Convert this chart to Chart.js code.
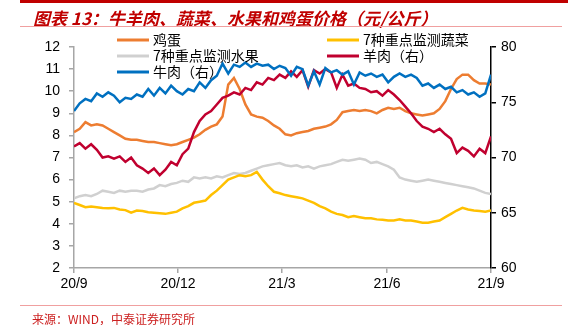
<!DOCTYPE html>
<html>
<head>
<meta charset="utf-8">
<script src="https://cdn.jsdelivr.net/npm/chart.js@4.4.0/dist/chart.umd.min.js"></script>
<style>
  html, body { margin: 0; padding: 0; background: #fff; }
  #wrap { position: relative; width: 568px; height: 325px; overflow: hidden; }
  #topbar { position: absolute; left: 20px; top: 0; width: 548px; height: 3px; background: #c00000; }
  #title { position: absolute; left: 33px; top: 5px; line-height: 22px; white-space: nowrap;
           font: italic bold 17px "Noto Sans CJK SC", sans-serif; color: #c00000; }
  #line1 { position: absolute; left: 20px; top: 26px; width: 542px; height: 1px; background: #f0a0a0; }
  #line2 { position: absolute; left: 20px; top: 305px; width: 542px; height: 1px; background: #f0a0a0; }
  #source { position: absolute; left: 32px; top: 310px; line-height: 16px; white-space: nowrap;
            font: 12px "Noto Sans CJK SC", sans-serif; color: #cc2020; }
  canvas { position: absolute; left: 0; top: 0; }
</style>
</head>
<body>
<div id="wrap">
  <canvas id="chart" width="568" height="325"></canvas>
  <div id="topbar"></div>
  <div id="title">图表 13：牛羊肉、蔬菜、水果和鸡蛋价格（元/公斤）</div>
  <div id="line1"></div>
  <div id="line2"></div>
  <div id="source">来源：WIND，中泰证券研究所</div>
</div>
<script>
// days since 2020-09-01
var days = [
  0, 5, 10, 15, 20, 25, 30, 35, 40, 45,
  50, 55, 60, 65, 70, 75, 80, 85, 90, 95,
  100, 105, 110, 115, 120, 125, 130, 135, 140, 145,
  150, 155, 160, 165, 170, 175, 180, 185, 190, 195,
  200, 205, 210, 215, 220, 225, 230, 235, 240, 245,
  250, 255, 260, 265, 270, 275, 280, 285, 290, 295,
  300, 305, 310, 315, 320, 325, 330, 335, 340, 345,
  350, 355, 360, 365
];

var eggs = [
  8.15, 8.3, 8.6, 8.45, 8.5, 8.45, 8.3, 8.15, 8.0, 7.85,
  7.8, 7.8, 7.75, 7.7, 7.7, 7.65, 7.6, 7.55, 7.6, 7.7,
  7.8, 7.9, 8.05, 8.25, 8.4, 8.5, 8.85, 10.3, 10.6, 10.1,
  9.4, 8.95, 8.85, 8.8, 8.65, 8.45, 8.3, 8.05, 8.0, 8.1,
  8.15, 8.2, 8.3, 8.35, 8.4, 8.5, 8.7, 9.05, 9.1, 9.15,
  9.1, 9.15, 9.1, 9.0, 9.15, 9.25, 9.2, 9.25, 9.1, 9.0,
  8.95, 8.9, 8.95, 9.0, 9.2, 9.55, 10.1, 10.55, 10.75, 10.75,
  10.5, 10.35, 10.35, 10.3
];

var vegetables = [
  4.95, 4.85, 4.75, 4.78, 4.75, 4.72, 4.7, 4.72, 4.65, 4.62,
  4.5, 4.6, 4.58, 4.52, 4.5, 4.48, 4.45, 4.5, 4.55, 4.7,
  4.8, 4.95, 5.0, 5.05, 5.3, 5.5, 5.75, 6.0, 6.1, 6.2,
  6.15, 6.2, 6.35, 6.0, 5.7, 5.45, 5.38, 5.3, 5.25, 5.2,
  5.15, 5.05, 4.95, 4.8, 4.7, 4.55, 4.45, 4.4, 4.3, 4.35,
  4.3, 4.25, 4.25, 4.2, 4.18, 4.15, 4.15, 4.2, 4.15, 4.15,
  4.1, 4.05, 4.05, 4.1, 4.15, 4.3, 4.45, 4.6, 4.72, 4.65,
  4.6, 4.58, 4.55, 4.6
];

var fruit = [
  5.15, 5.25, 5.3, 5.25, 5.35, 5.5, 5.45, 5.4, 5.5, 5.45,
  5.5, 5.5, 5.45, 5.55, 5.6, 5.75, 5.7, 5.8, 5.85, 5.95,
  5.9, 6.1, 6.05, 6.1, 6.05, 6.15, 6.1, 6.2, 6.3, 6.25,
  6.3, 6.4, 6.5, 6.6, 6.65, 6.7, 6.75, 6.65, 6.6, 6.65,
  6.55, 6.6, 6.5, 6.6, 6.65, 6.7, 6.8, 6.9, 6.85, 6.9,
  6.95, 6.9, 6.75, 6.8, 6.7, 6.6, 6.45, 6.1, 6.0, 5.95,
  5.9, 5.95, 6.0, 5.95, 5.9, 5.85, 5.8, 5.75, 5.7, 5.65,
  5.6, 5.5, 5.4, 5.35
];

var mutton = [
  71.0, 71.3, 70.8, 71.2, 70.7, 70.0, 70.1, 69.9, 70.1, 69.6,
  70.0, 69.3, 69.0, 68.6, 69.0, 68.4, 68.9, 69.6, 69.3, 70.3,
  70.8, 72.3, 73.3, 73.9, 74.2, 74.8, 75.4, 75.6, 75.9, 75.7,
  76.3, 76.1, 76.8, 76.6, 77.2, 77.0, 77.5, 77.2, 77.8, 77.3,
  77.9, 76.4, 77.9, 77.6, 78.0, 77.7, 76.3, 77.5, 76.5, 76.7,
  76.3, 76.2, 75.9, 76.0, 75.6, 76.1, 75.7, 75.2, 74.6, 74.0,
  73.3, 72.8, 72.6, 72.3, 72.6, 72.1, 71.7, 70.4, 70.9, 70.6,
  70.1, 70.8, 70.4, 71.9
];

var beef = [
  74.2, 74.9, 75.3, 75.1, 75.8, 75.5, 75.9, 75.6, 75.0, 75.4,
  75.3, 75.7, 75.5, 76.2, 75.6, 76.3, 75.8, 76.5, 76.0, 75.7,
  76.2, 76.0, 76.8, 76.3, 77.0, 77.4, 78.5, 77.6, 78.4, 78.2,
  78.6, 78.2, 78.5, 78.3, 78.4, 78.0, 78.3, 78.1, 77.4, 78.2,
  78.0, 76.5, 77.8, 76.6, 78.1, 77.7, 77.9, 77.5, 77.8, 76.6,
  77.7, 77.4, 77.6, 77.3, 77.5, 76.8, 77.3, 77.6, 77.3, 77.5,
  77.2, 76.5, 76.7, 76.3, 76.6, 76.2, 76.4, 75.9, 76.1, 75.7,
  75.9, 75.5, 75.8, 77.5
];

var tickDays = [0, 91, 182, 274, 365];
var tickLabels = ['20/9', '20/12', '21/3', '21/6', '21/9'];

function pts(values) {
  return values.map(function (v, i) { return { x: days[i], y: v }; });
}

// legend order: row by row, two columns
var legendOrder = [
  { label: '鸡蛋', color: '#ed7d31', col: 0, row: 0 },
  { label: '7种重点监测蔬菜', color: '#ffc000', col: 1, row: 0 },
  { label: '7种重点监测水果', color: '#d0d0d0', col: 0, row: 1 },
  { label: '羊肉（右）', color: '#c0002f', col: 1, row: 1 },
  { label: '牛肉（右）', color: '#0070c0', col: 0, row: 2 }
];

var legendPlugin = {
  id: 'twoColLegend',
  afterDatasetsDraw: function (chart) {
    var ctx = chart.ctx;
    var colX = [117, 327];
    var rowY = [40, 56, 72];
    ctx.save();
    ctx.font = '14px "Noto Sans CJK SC", sans-serif';
    ctx.textBaseline = 'middle';
    ctx.fillStyle = '#000';
    legendOrder.forEach(function (it) {
      var x = colX[it.col], y = rowY[it.row];
      ctx.strokeStyle = it.color;
      ctx.lineWidth = 3;
      ctx.beginPath();
      ctx.moveTo(x, y);
      ctx.lineTo(x + 32, y);
      ctx.stroke();
      ctx.fillText(it.label, x + 36, y);
    });
    ctx.restore();
  }
};

function line(label, values, color, axis, order) {
  return {
    label: label,
    data: pts(values),
    borderColor: color,
    backgroundColor: color,
    borderWidth: 2.5,
    pointRadius: 0,
    tension: 0,
    yAxisID: axis,
    order: order
  };
}

var tickFont = { family: '"Liberation Sans", Arial, sans-serif', size: 14 };

new Chart(document.getElementById('chart'), {
  type: 'line',
  data: {
    datasets: [
      line('鸡蛋', eggs, '#ed7d31', 'y', 3),
      line('7种重点监测蔬菜', vegetables, '#ffc000', 'y', 4),
      line('7种重点监测水果', fruit, '#d0d0d0', 'y', 5),
      line('羊肉（右）', mutton, '#c0002f', 'y1', 2),
      line('牛肉（右）', beef, '#0070c0', 'y1', 1)
    ]
  },
  options: {
    responsive: false,
    animation: false,
    layout: { padding: { top: 47, left: 0, right: 0, bottom: 0 } },
    plugins: { legend: { display: false }, tooltip: { enabled: false } },
    scales: {
      x: {
        type: 'linear', min: 0, max: 365,
        afterBuildTicks: function (s) { s.ticks = tickDays.map(function (v) { return { value: v }; }); },
        afterFit: function (s) { s.height = 57; },
        ticks: {
          autoSkip: false, maxRotation: 0, padding: 3, color: '#000', font: tickFont,
          callback: function (v, i) { return tickLabels[i]; }
        },
        grid: { drawOnChartArea: false, drawTicks: true, tickLength: 5, color: '#a6a6a6', lineWidth: 1.5 },
        border: { color: '#a6a6a6', width: 1.5 }
      },
      y: {
        position: 'left', min: 2, max: 12,
        afterFit: function (s) { s.width = 74; },
        ticks: { stepSize: 1, padding: 9, color: '#000', font: tickFont },
        grid: { drawOnChartArea: false, drawTicks: true, tickLength: 5, color: '#a6a6a6', lineWidth: 1.5 },
        border: { color: '#a6a6a6', width: 1.5 }
      },
      y1: {
        position: 'right', min: 60, max: 80,
        afterFit: function (s) { s.width = 77; },
        ticks: { stepSize: 5, padding: 5, color: '#000', font: tickFont },
        grid: { drawOnChartArea: false, drawTicks: true, tickLength: 5, color: '#000', lineWidth: 1.5 },
        border: { color: '#000', width: 1.5 }
      }
    }
  },
  plugins: [legendPlugin]
});
</script>
</body>
</html>
